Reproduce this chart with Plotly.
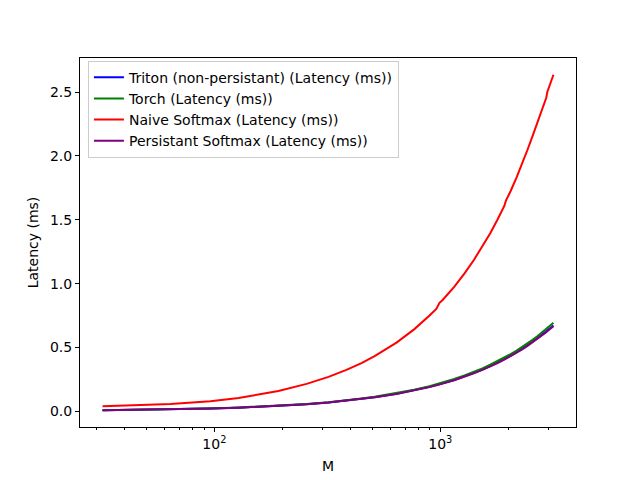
import plotly.graph_objects as go
import math

M = [32, 64, 96, 128, 192, 256, 320, 384, 448, 512, 640, 768, 896, 960, 992, 1024,
     1152, 1280, 1408, 1536, 1664, 1792, 1920, 1952, 1984, 2048, 2176, 2304, 2432,
     2560, 2688, 2816, 2912, 2944, 2976, 3072, 3168]

triton = [0.009, 0.016, 0.022, 0.029, 0.043, 0.056, 0.070, 0.084, 0.097, 0.111, 0.138,
          0.165, 0.192, 0.206, 0.212, 0.219, 0.246, 0.274, 0.301, 0.328, 0.355, 0.382,
          0.409, 0.416, 0.423, 0.436, 0.463, 0.490, 0.517, 0.545, 0.572, 0.599, 0.619,
          0.626, 0.633, 0.653, 0.673]
torch = [0.009, 0.016, 0.023, 0.030, 0.044, 0.058, 0.072, 0.086, 0.100, 0.114, 0.142,
         0.170, 0.197, 0.211, 0.218, 0.225, 0.253, 0.281, 0.309, 0.337, 0.365, 0.393,
         0.421, 0.428, 0.435, 0.449, 0.476, 0.504, 0.532, 0.560, 0.588, 0.616, 0.637,
         0.644, 0.651, 0.672, 0.693]
naive = [0.041, 0.058, 0.080, 0.104, 0.160, 0.215, 0.270, 0.325, 0.378, 0.432, 0.538,
         0.644, 0.750, 0.802, 0.850, 0.872, 0.975, 1.080, 1.185, 1.290, 1.395, 1.502,
         1.608, 1.650, 1.672, 1.725, 1.832, 1.940, 2.048, 2.155, 2.262, 2.370, 2.430,
         2.455, 2.500, 2.575, 2.635]
persistent = [0.009, 0.015, 0.022, 0.029, 0.042, 0.056, 0.069, 0.083, 0.096, 0.110, 0.136,
              0.163, 0.190, 0.204, 0.210, 0.217, 0.244, 0.271, 0.298, 0.325, 0.351, 0.378,
              0.405, 0.412, 0.419, 0.432, 0.459, 0.486, 0.513, 0.540, 0.566, 0.593, 0.614,
              0.620, 0.627, 0.647, 0.667]

series = [
    ("Triton (non-persistant) (Latency (ms))", triton, "blue"),
    ("Torch (Latency (ms))", torch, "green"),
    ("Naive Softmax (Latency (ms))", naive, "red"),
    ("Persistant Softmax (Latency (ms))", persistent, "purple"),
]

x_major = [100, 1000]
x_major_text = ["10<sup>2</sup>", "10<sup>3</sup>"]
x_minor = [30, 40, 50, 60, 70, 80, 90, 200, 300, 400, 500, 600, 700, 800, 900, 2000, 3000]
y_ticks = [0.0, 0.5, 1.0, 1.5, 2.0, 2.5]

FONT = "DejaVu Sans, sans-serif"
FS = 14

fig = go.Figure()
for name, vals, color in series:
    fig.add_trace(go.Scatter(x=M, y=vals, mode="lines", name=name,
                             line=dict(color=color, width=2)))

lx0, lx1 = math.log10(min(M)), math.log10(max(M))
pad = 0.05 * (lx1 - lx0)
allv = triton + torch + naive + persistent
y0, y1 = min(allv), max(allv)
ypad = 0.05 * (y1 - y0)

fig.update_layout(
    width=640, height=480,
    margin=dict(l=80, r=64, t=58, b=53),
    paper_bgcolor="white", plot_bgcolor="white",
    font=dict(family=FONT, size=FS, color="black"),
    showlegend=True,
    legend=dict(x=0.016, y=0.993, xanchor="left", yanchor="top",
                bgcolor="rgba(255,255,255,0.8)", bordercolor="#cccccc", borderwidth=1,
                font=dict(family=FONT, size=FS), tracegroupgap=0, itemwidth=30),
    xaxis=dict(type="log", range=[lx0 - pad, lx1 + pad], automargin=False,
               tickvals=x_major, ticktext=x_major_text, ticks="outside", ticklen=4,
               tickwidth=1, tickcolor="black", showgrid=False, zeroline=False,
               showline=True, linecolor="black", linewidth=1, mirror=True,
               tickfont=dict(family=FONT, size=FS),
               minor=dict(tickvals=x_minor, ticks="outside", ticklen=2, tickcolor="black",
                          showgrid=False),
               title=dict(text="M", font=dict(family=FONT, size=FS), standoff=10)),
    yaxis=dict(range=[y0 - ypad, y1 + ypad], tickvals=y_ticks, automargin=False,
               ticktext=[f"{v:.1f}" for v in y_ticks], ticks="outside", ticklen=4,
               tickwidth=1, tickcolor="black", showgrid=False, zeroline=False,
               showline=True, linecolor="black", linewidth=1, mirror=True,
               tickfont=dict(family=FONT, size=FS),
               title=dict(text="Latency (ms)", font=dict(family=FONT, size=FS), standoff=8)),
)

fig.write_html("out.html")
